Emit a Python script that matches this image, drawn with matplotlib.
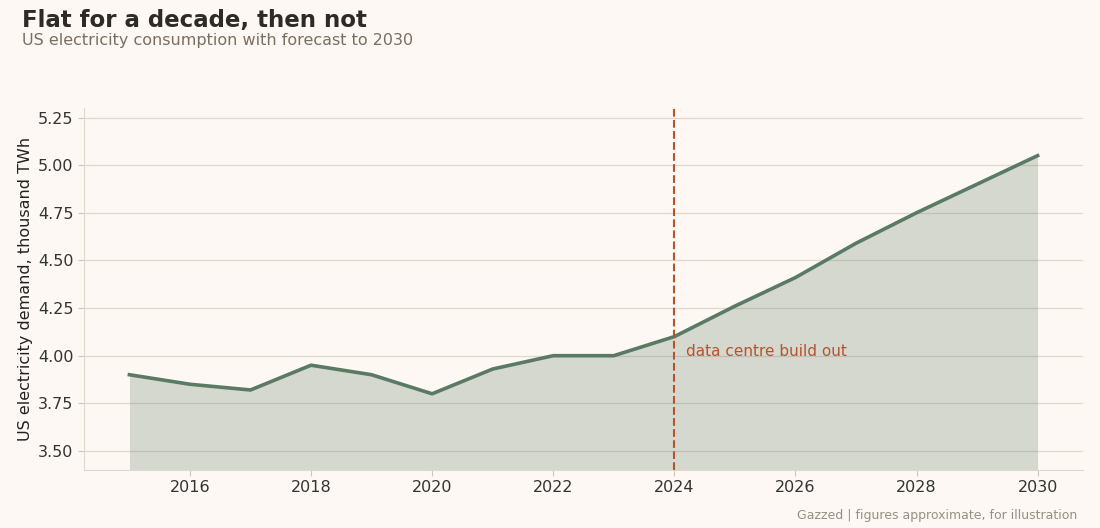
import matplotlib
matplotlib.use("Agg")
import matplotlib.pyplot as plt

years = [2015,2016,2017,2018,2019,2020,2021,2022,2023,2024,2025,2026,2027,2028,2029,2030]
demand = [3.90,3.85,3.82,3.95,3.90,3.80,3.93,4.00,4.00,4.10,4.26,4.41,4.59,4.75,4.90,5.05]
yticks = [3.50,3.75,4.00,4.25,4.50,4.75,5.00,5.25]
xticks = [2016,2018,2020,2022,2024,2026,2028,2030]

bg = "#fdf8f3"
fig = plt.figure(figsize=(11,5.28), dpi=100, facecolor=bg)
ax = fig.add_axes([84/1100, 1-470/528, 999/1100, 362/528], facecolor=bg)
ax.fill_between(years, demand, 3.40, color="#5a7a64", alpha=0.25, lw=0)
ax.plot(years, demand, color="#5a7a64", lw=2.6)
ax.axvline(2024, color="#b5532c", ls="--", lw=1.5)
ax.text(2024.2, 4.02, "data centre build out", color="#b5532c", fontsize=11, va="center")
ax.set_xlim(2014.25, 2030.75)
ax.set_ylim(3.40, 5.30)
ax.set_xticks(xticks)
ax.set_yticks(yticks)
ax.set_yticklabels([f"{v:.2f}" for v in yticks])
ax.grid(axis="y", color="#e2d8cc", lw=0.9)
ax.set_axisbelow(True)
for s in ["top","right"]:
    ax.spines[s].set_visible(False)
for s in ["left","bottom"]:
    ax.spines[s].set_color("#e2d8cc")
ax.tick_params(colors="#333333", labelsize=11.5, length=4)
ax.tick_params(axis="both", color="#cfc5b8")
ax.set_ylabel("US electricity demand, thousand TWh", fontsize=11.5, color="#222222")
fig.text(22/1100, 1-20/528, "Flat for a decade, then not", fontsize=16.5, fontweight="bold", color="#2e2a26", va="center")
fig.text(22/1100, 1-40/528, "US electricity consumption with forecast to 2030", fontsize=11.5, color="#7a6e62", va="center")
fig.text(1077/1100, 1-516/528, "Gazzed | figures approximate, for illustration", fontsize=9, color="#9a8e82", ha="right", va="center")
fig.savefig("out.png", dpi=100, facecolor=bg)
